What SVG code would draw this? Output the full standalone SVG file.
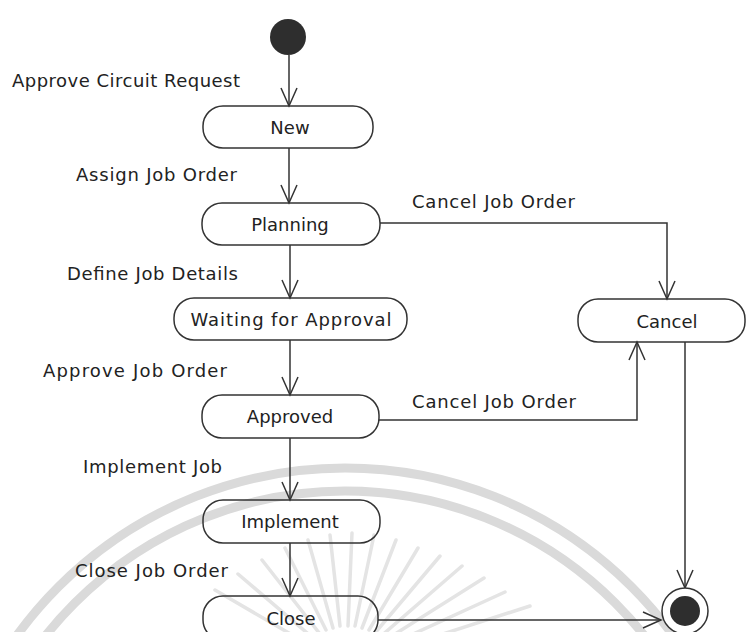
<svg xmlns="http://www.w3.org/2000/svg" width="747" height="632" viewBox="0 0 747 632">
  <style>
    .state { fill: none; stroke: #333; stroke-width: 1.5; }
    .name { font-family: "DejaVu Sans", "Liberation Sans", sans-serif; font-size: 18px; fill: #222; text-anchor: middle; }
    .label { font-family: "DejaVu Sans", "Liberation Sans", sans-serif; font-size: 18px; fill: #222; }
    .flow { fill: none; stroke: #333; stroke-width: 1.5; marker-end: url(#open); }
    .seal { fill: none; stroke: #dadada; }
  </style>
  <defs>
    <marker id="open" viewBox="-19 -10 21 20" refX="0" refY="0" markerWidth="21" markerHeight="20" markerUnits="userSpaceOnUse" orient="auto">
      <path d="M-18,-8 L0,0 L-18,8" fill="none" stroke="#333" stroke-width="1.5"/>
    </marker>
  </defs>
  <rect width="747" height="632" fill="#ffffff"/>

  <!-- faint seal in the background -->
  <g id="seal">
    <circle class="seal" cx="345" cy="873" r="405" stroke-width="9"/>
    <circle class="seal" cx="345" cy="873" r="382" stroke-width="9"/>
    <g stroke="#e4e4e4" stroke-width="3.5" stroke-linecap="round">
      <path d="M320,634 L262,560 M326,630 L285,548 M333,628 L308,540 M340,626 L330,535 M348,626 L352,533 M355,626 L374,535 M362,628 L396,540 M369,630 L418,548 M375,633 L440,556 M380,637 L462,566 M384,641 L484,578 M387,646 L505,592 M390,651 L530,606 M313,638 L238,574 M306,643 L215,590"/>
    </g>
  </g>

  <!-- transitions -->
  <g id="connectors">
    <path class="flow" d="M289,55 V106"/>
    <path class="flow" d="M289,148 V203"/>
    <path class="flow" d="M290,245 V298"/>
    <path class="flow" d="M290,340 V395"/>
    <path class="flow" d="M290,438 V500"/>
    <path class="flow" d="M290,543 V596"/>
    <path class="flow" d="M380,223 H667 V299"/>
    <path class="flow" d="M379,420 H637 V342"/>
    <path class="flow" d="M685,342 V588"/>
    <path class="flow" d="M378,620 H661"/>
  </g>

  <!-- transition labels -->
  <g id="labels">
    <text class="label" x="12" y="87" textLength="228" lengthAdjust="spacing">Approve Circuit Request</text>
    <text class="label" x="76" y="181" textLength="161" lengthAdjust="spacing">Assign Job Order</text>
    <text class="label" x="412" y="208" textLength="163" lengthAdjust="spacing">Cancel Job Order</text>
    <text class="label" x="67" y="280" textLength="171" lengthAdjust="spacing">Define Job Details</text>
    <text class="label" x="43" y="377" textLength="184" lengthAdjust="spacing">Approve Job Order</text>
    <text class="label" x="412" y="408" textLength="164" lengthAdjust="spacing">Cancel Job Order</text>
    <text class="label" x="83" y="473" textLength="139" lengthAdjust="spacing">Implement Job</text>
    <text class="label" x="75" y="577" textLength="153" lengthAdjust="spacing">Close Job Order</text>
  </g>

  <g id="initial">
    <circle cx="288" cy="37" r="18" fill="#2e2e2e"/>
  </g>
  <g id="new">
    <rect class="state" x="203" y="106" width="170" height="42" rx="20"/>
    <text class="name" x="290" y="134">New</text>
  </g>
  <g id="planning">
    <rect class="state" x="202" y="203" width="178" height="42" rx="20"/>
    <text class="name" x="290" y="231">Planning</text>
  </g>
  <g id="waiting">
    <rect class="state" x="174" y="298" width="233" height="42" rx="20"/>
    <text class="name" x="291" y="326" textLength="201" lengthAdjust="spacing">Waiting for Approval</text>
  </g>
  <g id="approved">
    <rect class="state" x="202" y="395" width="177" height="43" rx="20"/>
    <text class="name" x="290" y="423">Approved</text>
  </g>
  <g id="implement">
    <rect class="state" x="203" y="500" width="177" height="43" rx="20"/>
    <text class="name" x="290" y="528">Implement</text>
  </g>
  <g id="close">
    <rect class="state" x="203" y="596" width="175" height="44" rx="20"/>
    <text class="name" x="291" y="625">Close</text>
  </g>
  <g id="cancel">
    <rect class="state" x="578" y="299" width="167" height="43" rx="20"/>
    <text class="name" x="667" y="328">Cancel</text>
  </g>
  <g id="final">
    <circle cx="685" cy="611" r="23" fill="#ffffff" stroke="#333" stroke-width="1.5"/>
    <circle cx="685" cy="611" r="15" fill="#2e2e2e"/>
  </g>
</svg>
